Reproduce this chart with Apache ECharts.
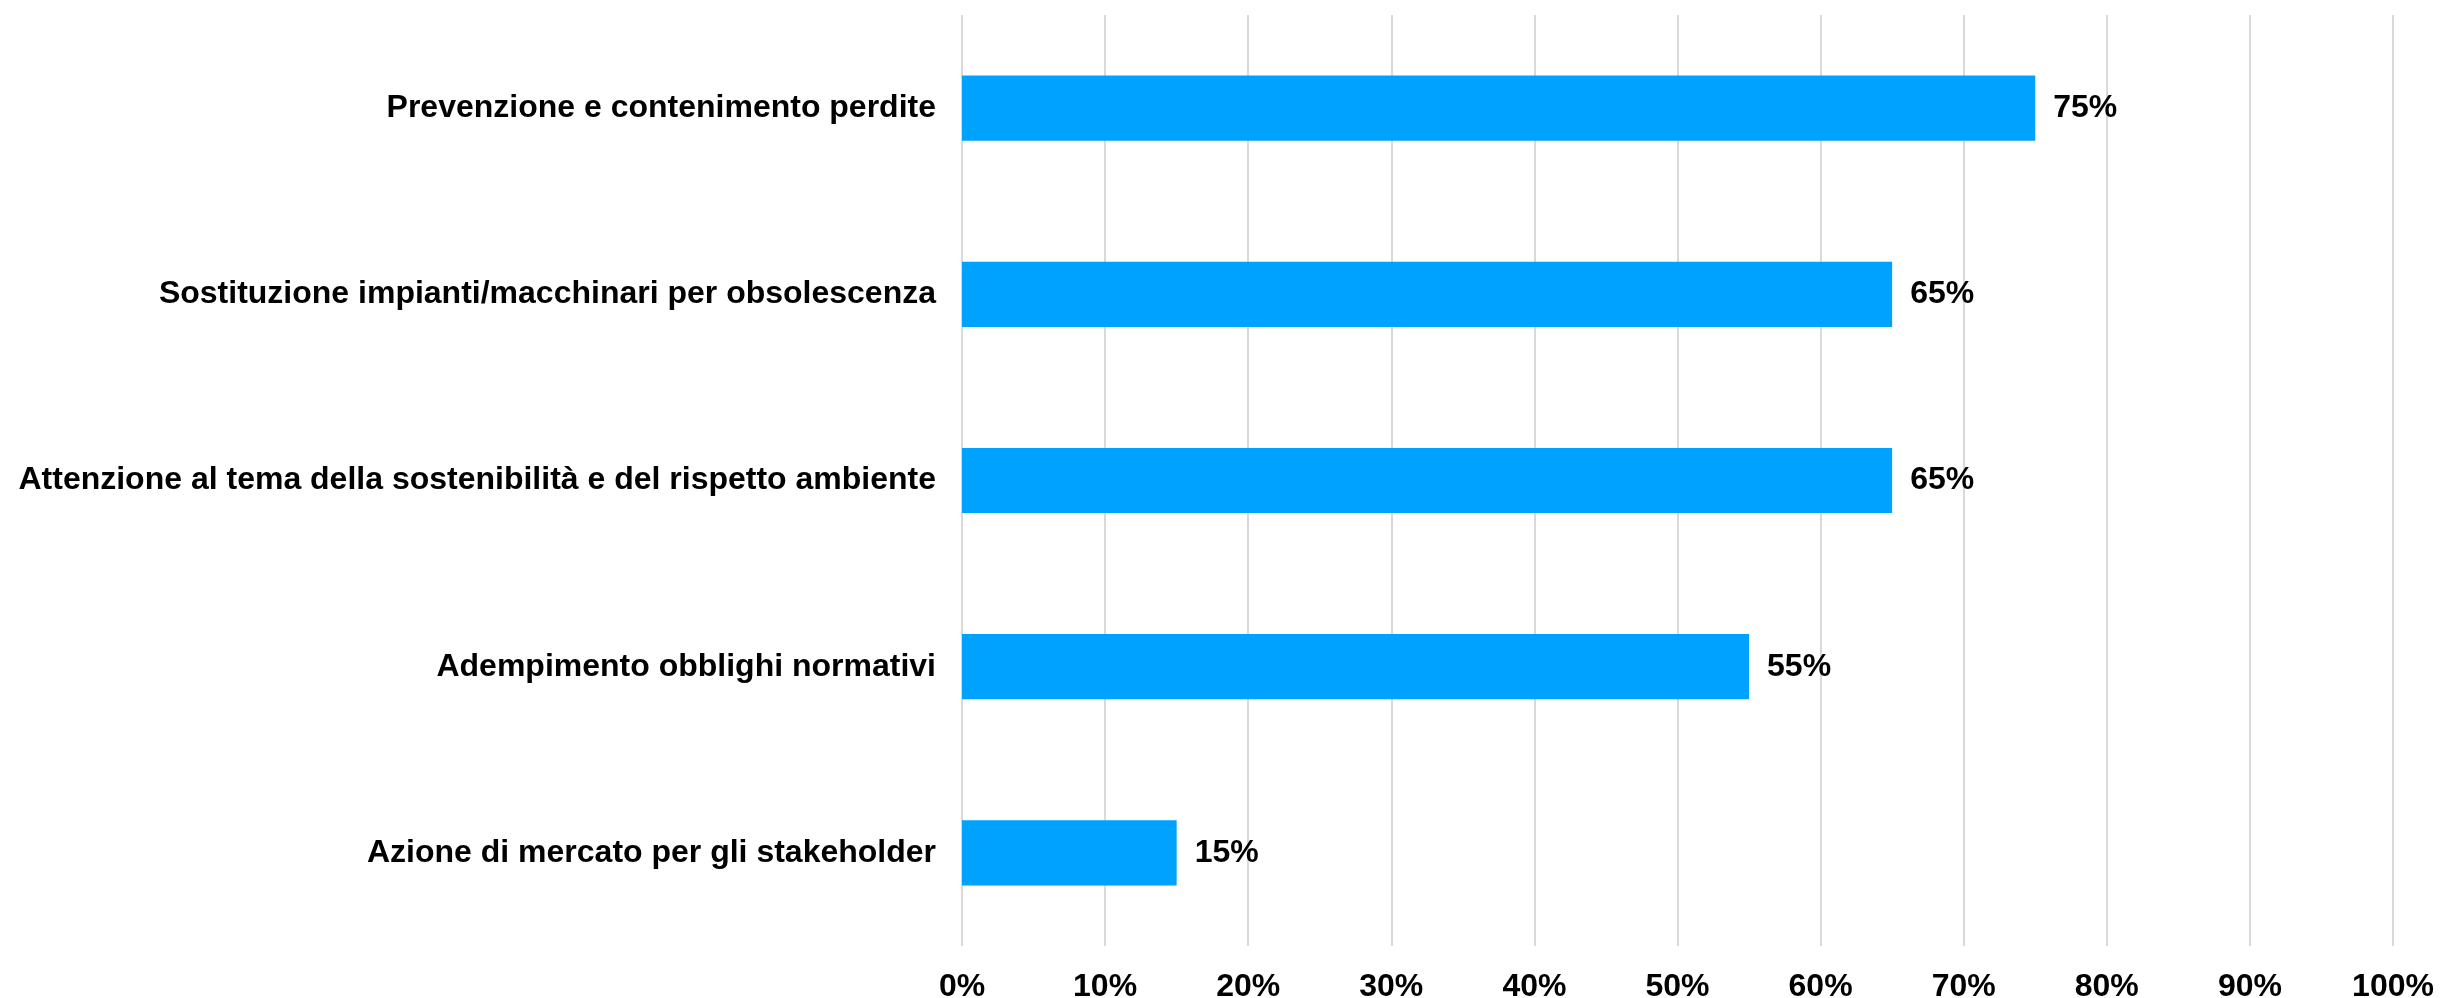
<!DOCTYPE html>
<html>
<head>
<meta charset="utf-8">
<script src="https://cdn.jsdelivr.net/npm/echarts@6/dist/echarts.min.js"></script>
<style>
html,body{margin:0;padding:0;background:#fff;}
#chart{width:2455px;height:998px;}
</style>
</head>
<body>
<div id="chart"></div>
<script>
const categories = [
  "Prevenzione e contenimento perdite",
  "Sostituzione impianti/macchinari per obsolescenza",
  "Attenzione al tema della sostenibilità e del rispetto ambiente",
  "Adempimento obblighi normativi",
  "Azione di mercato per gli stakeholder"
];
const values = [75, 65, 65, 55, 15];

const chart = echarts.init(document.getElementById('chart'));
const font = 'Liberation Sans, Arial, sans-serif';
chart.setOption({
  animation: false,
  grid: {left: 962, right: 62, top: 15, bottom: 52, containLabel: false, outerBoundsMode: 'none'},
  xAxis: {
    type: 'value', min: 0, max: 100, interval: 10,
    axisLine: {show: false}, axisTick: {show: false},
    splitLine: {show: true, lineStyle: {color: '#d9d9d9', width: 2}},
    axisLabel: {formatter: '{value}%', color: '#000', fontSize: 32, fontWeight: 'bold', fontFamily: font, margin: 25}
  },
  yAxis: {
    type: 'category', data: categories, inverse: true,
    axisLine: {show: false}, axisTick: {show: false},
    axisLabel: {color: '#000', fontSize: 32, fontWeight: 'bold', fontFamily: font, margin: 26}
  },
  series: [{
    type: 'bar', data: values, barWidth: '35%',
    itemStyle: {color: '#00A2FF'},
    label: {show: true, position: 'right', distance: 18, formatter: '{c}%', color: '#000', fontSize: 32, fontWeight: 'bold', fontFamily: font}
  }]
});
</script>
</body>
</html>
